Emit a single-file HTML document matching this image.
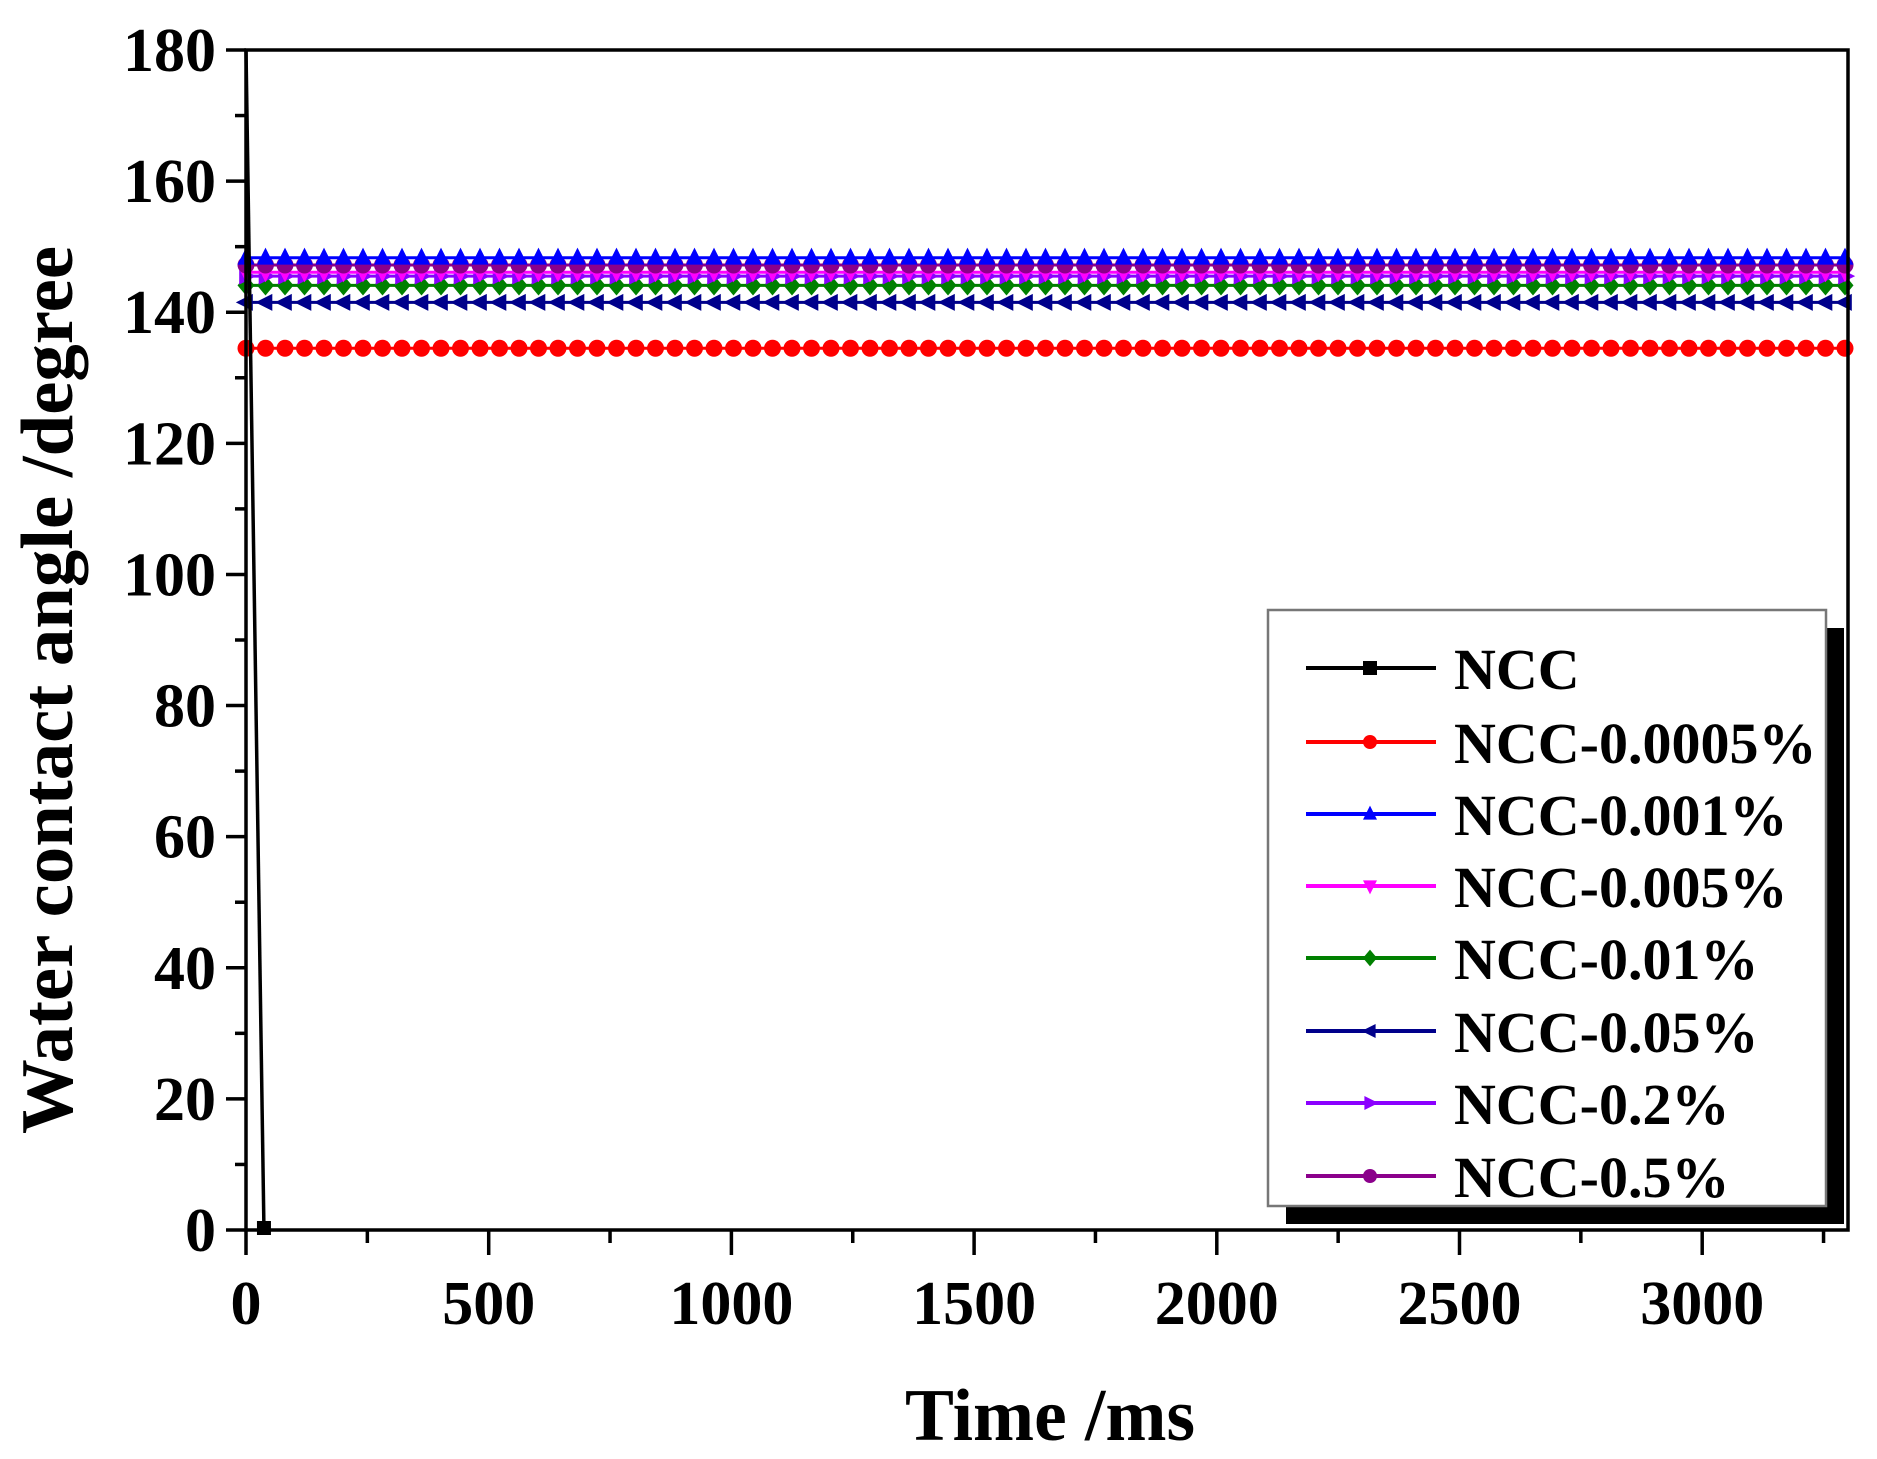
<!DOCTYPE html>
<html><head><meta charset="utf-8"><style>
html,body{margin:0;padding:0;background:#fff;}
svg{display:block;font-family:"Liberation Serif",serif;font-weight:bold;}
</style></head><body>
<svg id="s" width="1877" height="1459" viewBox="0 0 1877 1459" xmlns="http://www.w3.org/2000/svg">
<rect width="1877" height="1459" fill="#fff"/>
<g id="series"></g>
<rect x="246" y="50" width="1602" height="1180" fill="none" stroke="#000" stroke-width="3.5"/>
<g id="ticks" stroke="#000" stroke-width="3.5"></g>
<g id="labels" font-size="62" fill="#000"></g>
<text x="72" y="690" font-size="74" text-anchor="middle" transform="rotate(-90 72 690)" textLength="888" lengthAdjust="spacingAndGlyphs">Water contact angle /degree</text>
<text x="1050" y="1440" font-size="74" text-anchor="middle" textLength="290" lengthAdjust="spacingAndGlyphs">Time /ms</text>
<rect x="1286" y="628" width="558" height="596" fill="#000"/>
<rect x="1268" y="610" width="558" height="596" fill="#fff" stroke="#777" stroke-width="2.5"/>
<g id="legend" font-size="58"></g>
</svg>
<script>
const NS="http://www.w3.org/2000/svg";
function el(t,a,p){const e=document.createElementNS(NS,t);for(const k in a)e.setAttribute(k,a[k]);p.appendChild(e);return e;}
const X=v=>246+v*0.4854, Y=v=>1230-v*6.5556;
const ticks=document.getElementById('ticks'),labels=document.getElementById('labels');
for(let v=0;v<=180;v+=10){const y=Y(v);const maj=v%20==0;el('line',{x1:246,x2:246-(maj?20:11),y1:y,y2:y},ticks);
 if(maj){const t=el('text',{x:216,y:y+21,'text-anchor':'end'},labels);t.textContent=v;}}
for(let v=0;v<=3250;v+=250){const x=X(v);const maj=v%500==0;el('line',{x1:x,x2:x,y1:1230,y2:1230+(maj?25:13)},ticks);
 if(maj){const t=el('text',{x:x,y:1324,'text-anchor':'middle'},labels);t.textContent=v;}}
const g=document.getElementById('series');
function marker(type,x,y,c,p,s){s=s||7;
 if(type=='sq')el('rect',{x:x-s,y:y-s,width:2*s,height:2*s,fill:c},p);
 else if(type=='c')el('circle',{cx:x,cy:y,r:s,fill:c},p);
 else{let pts;
  if(type=='up')pts=[[0,-s*1.2],[s,s*.8],[-s,s*.8]];
  if(type=='dn')pts=[[0,s*1.2],[s,-s*.8],[-s,-s*.8]];
  if(type=='l')pts=[[-s*1.2,0],[s*.8,s],[s*.8,-s]];
  if(type=='r')pts=[[s*1.2,0],[-s*.8,s],[-s*.8,-s]];
  if(type=='d')pts=[[0,-s*1.2],[s,0],[0,s*1.2],[-s,0]];
  el('polygon',{points:pts.map(q=>(x+q[0])+','+(y+q[1])).join(' '),fill:c},p);}}
const ser=[
 ['#ff0000','c',134.5],['#00008b','l',141.5],['#008000','d',144.1],['#8b00ff','r',145.5],['#ff00ff','dn',146.1],['#8b008b','c',147.2],['#0000ff','up',148.3]];
for(const [c,m,v] of ser){const y=Y(v);el('line',{x1:246,x2:1848,y1:y,y2:y,stroke:c,'stroke-width':3},g);
 for(let x=246;x<=1850;x+=19.5)marker(m,x,y,c,g,8.5);}
el('polyline',{points:`${X(0)},${Y(180)} ${X(37)},${Y(0)}`,fill:'none',stroke:'#000','stroke-width':3.5},g);
marker('sq',X(37),Y(0)-2,'#000',g,7);
const L=document.getElementById('legend');
const items=[['NCC','#000','sq'],['NCC-0.0005%','#ff0000','c'],['NCC-0.001%','#0000ff','up'],['NCC-0.005%','#ff00ff','dn'],['NCC-0.01%','#008000','d'],['NCC-0.05%','#00008b','l'],['NCC-0.2%','#8b00ff','r'],['NCC-0.5%','#8b008b','c']];
const ys=[668,742,814,886,958,1031,1103,1176];
items.forEach((it,i)=>{const y=ys[i];el('line',{x1:1306,x2:1436,y1:y,y2:y,stroke:it[1],'stroke-width':4},L);
 marker(it[2],1370,y,it[1],L,7);const t=el('text',{x:1454,y:y+21},L);t.textContent=it[0];});
</script>
</body></html>
